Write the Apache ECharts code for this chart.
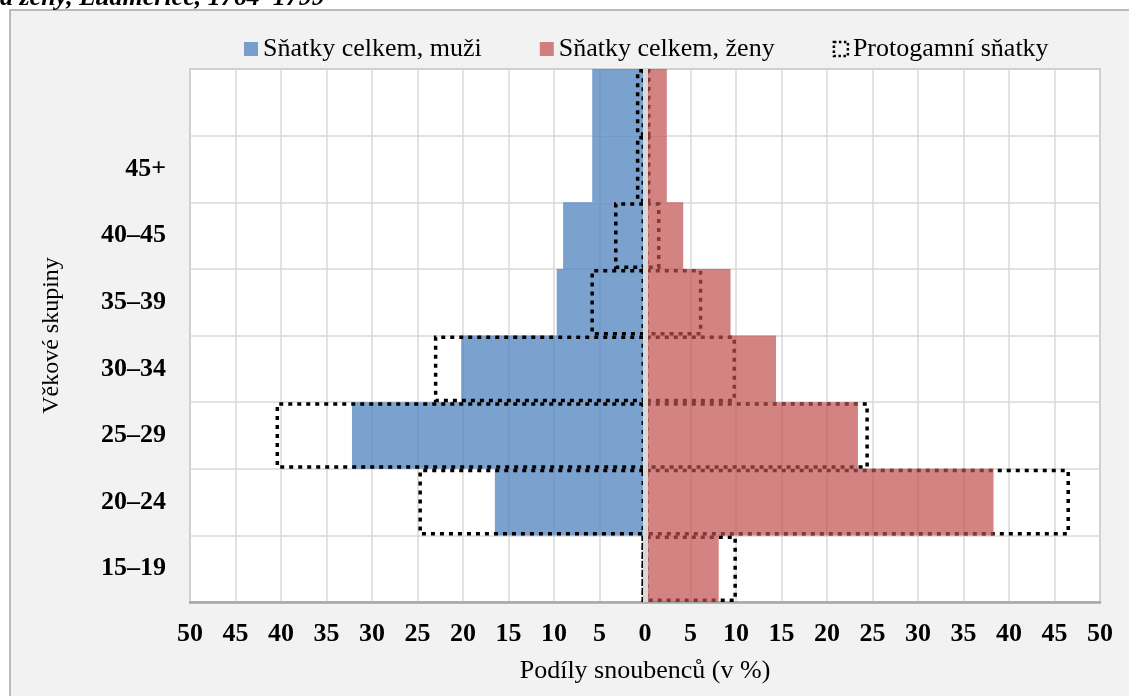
<!DOCTYPE html>
<html>
<head>
<meta charset="utf-8">
<script src="https://cdn.jsdelivr.net/npm/echarts@6/dist/echarts.min.js"></script>
<style>
html,body{margin:0;padding:0;background:#fff;}
#chart{width:1129px;height:696px;}
</style>
</head>
<body>
<div id="chart"></div>
<script>
// Age groups, bottom to top (top row has no label in the source)
const categories = ['15–19', '20–24', '25–29', '30–34', '35–39', '40–45', '45+', ''];
// Shares in % (men plotted to the left)
const menTotal   = [0, 16.5, 32.2, 20.2, 9.7, 9.0, 5.8, 5.8];
const womenTotal = [8.1, 38.3, 23.4, 14.4, 9.4, 4.2, 2.4, 2.4];
const menProto   = [0.4, 24.9, 40.6, 23.2, 6.0, 3.4, 1.0, 1.0];
const womenProto = [10.1, 46.7, 24.6, 10.0, 6.3, 1.7, 0.6, 0.6];
const xTicks = { min: -50, max: 50, interval: 5 };

const seriesNames = ['Sňatky celkem, muži', 'Sňatky celkem, ženy', 'Protogamní sňatky'];
const FONT = '"Liberation Serif", "Times New Roman", serif';

const chart = echarts.init(document.getElementById('chart'), null, {renderer: 'canvas'});

const protoStyle = {
  color: 'rgba(0,0,0,0)',
  borderColor: '#000',
  borderWidth: 3.5,
  borderType: [4, 5]
};

chart.setOption({
  backgroundColor: '#ffffff',
  animation: false,
  textStyle: { fontFamily: FONT },
  graphic: [
    {
      type: 'rect', z: -10, silent: true,
      shape: { x: 10, y: 10, width: 1200, height: 800 },
      style: { fill: '#f2f2f2', stroke: '#a6a6a6', lineWidth: 1.5 }
    },
    {
      type: 'text', z: 10, left: 0, top: -15, silent: true,
      style: {
        text: 'a ženy, Ludmeřice, 1764–1799',
        font: 'italic bold 26px ' + FONT,
        fill: '#000'
      }
    }
  ],
  legend: {
    left: 239, top: 31,
    icon: 'rect',
    itemWidth: 14, itemHeight: 14, itemGap: 58,
    textStyle: { fontSize: 26, fontFamily: FONT, color: '#000' },
    data: [
      seriesNames[0],
      seriesNames[1],
      {
        name: seriesNames[2],
        itemStyle: { color: 'rgba(0,0,0,0)', borderColor: '#000', borderWidth: 2.5, borderType: [2.5, 2.5] }
      }
    ]
  },
  grid: {
    left: 190, right: 29, top: 69, bottom: 94,
    show: true, backgroundColor: '#ffffff',
    borderColor: '#a6a6a6', borderWidth: 1.5
  },
  xAxis: {
    type: 'value',
    min: xTicks.min, max: xTicks.max, interval: xTicks.interval,
    name: 'Podíly snoubenců (v %)',
    nameLocation: 'middle', nameGap: 56,
    nameTextStyle: { fontSize: 26, fontFamily: FONT, color: '#000' },
    axisLine: { show: true, onZero: false, lineStyle: { color: '#a6a6a6', width: 2.5 } },
    axisTick: { show: false },
    axisLabel: {
      fontSize: 26, fontWeight: 'bold', fontFamily: FONT, color: '#000', margin: 19,
      formatter: v => String(Math.abs(v))
    },
    splitLine: { show: true, lineStyle: { color: '#d9d9d9', width: 1.5 } }
  },
  yAxis: {
    type: 'category',
    data: categories,
    name: 'Věkové skupiny',
    nameLocation: 'middle', nameGap: 126, nameRotate: 90,
    nameTextStyle: { fontSize: 24, fontFamily: FONT, color: '#000' },
    axisLine: { show: false, onZero: false },
    axisTick: { show: false },
    axisLabel: { fontSize: 26, fontWeight: 'bold', fontFamily: FONT, color: '#000', margin: 24 },
    splitLine: { show: true, lineStyle: { color: '#d9d9d9', width: 1.5 } }
  },
  series: [
    {
      name: seriesNames[0], type: 'bar',
      data: menTotal.map(v => -v),
      barGap: '-100%', barCategoryGap: '0%',
      itemStyle: { color: 'rgba(79,129,189,0.75)' }
    },
    {
      name: seriesNames[2], type: 'bar',
      data: menProto.map(v => -v),
      barGap: '-100%', barCategoryGap: '0%',
      itemStyle: protoStyle
    },
    {
      name: seriesNames[2], type: 'bar',
      data: womenProto.slice(),
      barGap: '-100%', barCategoryGap: '0%',
      itemStyle: protoStyle
    },
    {
      name: seriesNames[1], type: 'bar',
      data: womenTotal.slice(),
      barGap: '-100%', barCategoryGap: '0%',
      itemStyle: { color: 'rgba(192,80,77,0.7)' }
    },
    {
      name: 'zeroLine', type: 'line', data: [], z: 10,
      markLine: {
        silent: true, symbol: 'none', label: { show: false },
        lineStyle: { color: '#d9d9d9', width: 5, type: 'solid', opacity: 1 },
        data: [{ xAxis: 0 }]
      }
    }
  ]
});
</script>
</body>
</html>
